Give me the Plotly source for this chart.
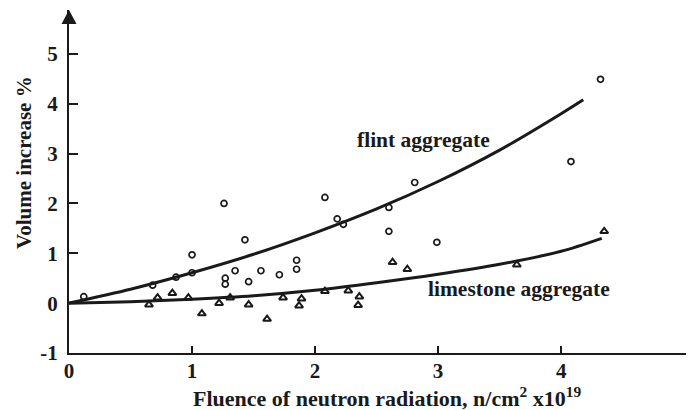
import plotly.graph_objects as go

# Flint aggregate measurements (circles)
flint_x = [0.12, 0.68, 0.87, 1.00, 1.00, 1.26, 1.27, 1.27, 1.35, 1.43, 1.46, 1.56,
           1.71, 1.85, 1.85, 2.08, 2.18, 2.23, 2.60, 2.60, 2.81, 2.99, 4.08, 4.32]
flint_y = [0.13, 0.36, 0.52, 0.61, 0.97, 2.00, 0.50, 0.38, 0.65, 1.27, 0.43, 0.65,
           0.57, 0.86, 0.68, 2.12, 1.69, 1.58, 1.92, 1.44, 2.42, 1.22, 2.84, 4.49]

# Limestone aggregate measurements (triangles)
lime_x = [0.65, 0.72, 0.84, 0.97, 1.08, 1.22, 1.31, 1.46, 1.61, 1.74, 1.87, 1.89,
          2.08, 2.27, 2.35, 2.36, 2.63, 2.75, 3.64, 4.35]
lime_y = [-0.03, 0.11, 0.20, 0.11, -0.21, 0.00, 0.11, -0.03, -0.32, 0.11, -0.05, 0.09,
          0.24, 0.25, -0.04, 0.13, 0.82, 0.68, 0.77, 1.44]

# Trend curves
flint_fit_x = [0, 0.5, 1.0, 1.5, 2.0, 2.5, 3.0, 3.5, 4.0, 4.18]
flint_fit_y = [0, 0.28, 0.61, 0.98, 1.41, 1.89, 2.44, 3.07, 3.80, 4.08]
lime_fit_x = [0, 0.5, 1.0, 1.5, 2.0, 2.5, 3.0, 3.5, 4.0, 4.33]
lime_fit_y = [0, 0.03, 0.08, 0.15, 0.26, 0.41, 0.58, 0.78, 1.04, 1.30]

x_ticks = [0, 1, 2, 3, 4]
y_ticks = [-1, 0, 1, 2, 3, 4, 5]

INK = "#1a1a1a"
FONT = "Liberation Serif"

fig = go.Figure()

fig.add_trace(go.Scatter(x=flint_fit_x, y=flint_fit_y, mode="lines",
                         line=dict(color=INK, width=3, shape="spline", smoothing=0.8),
                         hoverinfo="skip"))
fig.add_trace(go.Scatter(x=lime_fit_x, y=lime_fit_y, mode="lines",
                         line=dict(color=INK, width=3, shape="spline", smoothing=0.8),
                         hoverinfo="skip"))
fig.add_trace(go.Scatter(x=flint_x, y=flint_y, mode="markers",
                         marker=dict(symbol="circle-open", size=6, color=INK,
                                     line=dict(width=1.7, color=INK))))
fig.add_trace(go.Scatter(x=lime_x, y=lime_y, mode="markers",
                         marker=dict(symbol="triangle-up-open", size=7, color=INK,
                                     line=dict(width=2, color=INK))))

# The page body adds an 8px margin, so the figure is 8px smaller on each side
fig.update_layout(
    width=686, height=402,
    margin=dict(l=61, r=0, t=2, b=57, autoexpand=False),
    paper_bgcolor="white", plot_bgcolor="white",
    showlegend=False,
    font=dict(family=FONT, color=INK, size=20),
    xaxis=dict(range=[0, 5.08], showgrid=False, zeroline=False, automargin=False,
               showline=True, linewidth=2, linecolor=INK,
               ticks="inside", ticklen=7, tickwidth=1.5, tickcolor=INK,
               tickvals=x_ticks, ticktext=[str(v) for v in x_ticks],
               tickfont=dict(family=FONT, size=21, color=INK, weight="bold"),
               ticklabelstandoff=-2),
    yaxis=dict(range=[-1, 5.88], showgrid=False, zeroline=False, automargin=False,
               showline=True, linewidth=2, linecolor=INK,
               ticks="inside", ticklen=9, tickwidth=1.5, tickcolor=INK,
               tickvals=y_ticks, ticktext=[str(v) for v in y_ticks],
               tickfont=dict(family=FONT, size=21, color=INK, weight="bold"),
               ticklabelstandoff=5),
)

# Arrowheads at the axis ends
fig.add_shape(type="path", xref="paper", yref="paper",
              path="M -0.012 0.959 L 0.012 0.959 L 0 1.0 Z",
              fillcolor=INK, line=dict(width=0))
fig.add_shape(type="path", xref="paper", yref="paper",
              path="M 0.989 0.024 L 0.989 -0.024 L 1.012 0 Z",
              fillcolor=INK, line=dict(width=0))

# Curve labels
fig.add_annotation(x=2.878, y=3.28, text="<b>flint aggregate</b>", showarrow=False,
                   xanchor="center", yanchor="middle",
                   font=dict(family=FONT, size=21.5, color=INK))
fig.add_annotation(x=3.66, y=0.29, text="<b>limestone aggregate</b>", showarrow=False,
                   xanchor="center", yanchor="middle",
                   font=dict(family=FONT, size=21.5, color=INK))

# Axis titles
fig.add_annotation(xref="paper", yref="paper", x=0.509, y=-0.128,
                   xanchor="center", yanchor="middle",
                   text="<b>Fluence of neutron radiation, n/cm<sup>2</sup> x10<sup>19</sup></b>",
                   showarrow=False, font=dict(family=FONT, size=22, color=INK))
fig.add_annotation(xref="paper", yref="paper", x=-0.072, y=0.554,
                   xanchor="center", yanchor="middle",
                   text="<b>Volume increase %</b>", textangle=-90,
                   showarrow=False, font=dict(family=FONT, size=21, color=INK))

fig.write_html("out.html")
